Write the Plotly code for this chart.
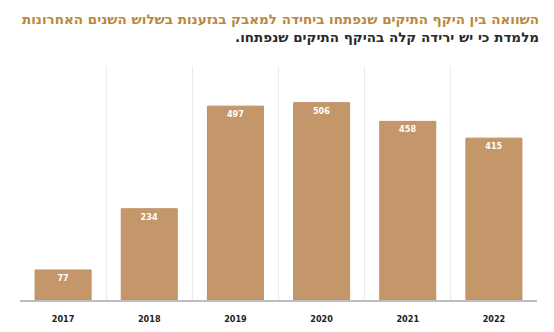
import plotly.graph_objects as go

years = ["2017", "2018", "2019", "2020", "2021", "2022"]
cases = [77, 234, 497, 506, 458, 415]

title_line1 = "השוואה בין היקף התיקים שנפתחו ביחידה למאבק בגזענות בשלוש השנים האחרונות"
title_line2 = "מלמדת כי יש ירידה קלה בהיקף התיקים שנפתחו.\u200f"

BAR = "#c4976a"
FONT = "DejaVu Sans Condensed, Liberation Sans Narrow, Arial"
TFONT = "DejaVu Sans, Arial"

fig = go.Figure(go.Bar(
    x=years, y=cases,
    marker=dict(color=BAR, line=dict(color="#c08f60", width=1)),
    text=cases, texttemplate="<b>%{text}</b>",
    textposition="inside", insidetextanchor="end",
    textfont=dict(color="white", size=9, family=FONT),
    cliponaxis=False,
))

fig.update_layout(
    width=554, height=332,
    margin=dict(l=20, r=17, t=66, b=32),
    paper_bgcolor="white", plot_bgcolor="white",
    bargap=0.35, showlegend=False,
    xaxis=dict(
        type="category", tickson="boundaries", showgrid=True,
        gridcolor="#ebebeb", gridwidth=1, automargin=False,
        showline=True, linecolor="#bdbdbd", linewidth=2,
        ticks="", ticklen=0, ticklabelstandoff=9,
        tickfont=dict(size=9, color="#222222", family=FONT),
        tickprefix="<b>", ticksuffix="</b>",
    ),
    yaxis=dict(range=[0, 600], showgrid=False, zeroline=False,
               showticklabels=False, ticks="", automargin=False),
    annotations=[
        dict(text="<b>" + title_line1 + "</b>", xref="paper", yref="paper",
             x=(541 - 20) / 517, y=(300 - 19) / 234, xanchor="right", yanchor="middle",
             showarrow=False, font=dict(size=13.5, color="#b8893e", family=TFONT)),
        dict(text="<b>" + title_line2 + "</b>", xref="paper", yref="paper",
             x=(541 - 20) / 517, y=(300 - 37) / 234, xanchor="right", yanchor="middle",
             showarrow=False, font=dict(size=13.5, color="#2a2a2a", family=TFONT)),
    ],
)

fig.write_html("out.html")
